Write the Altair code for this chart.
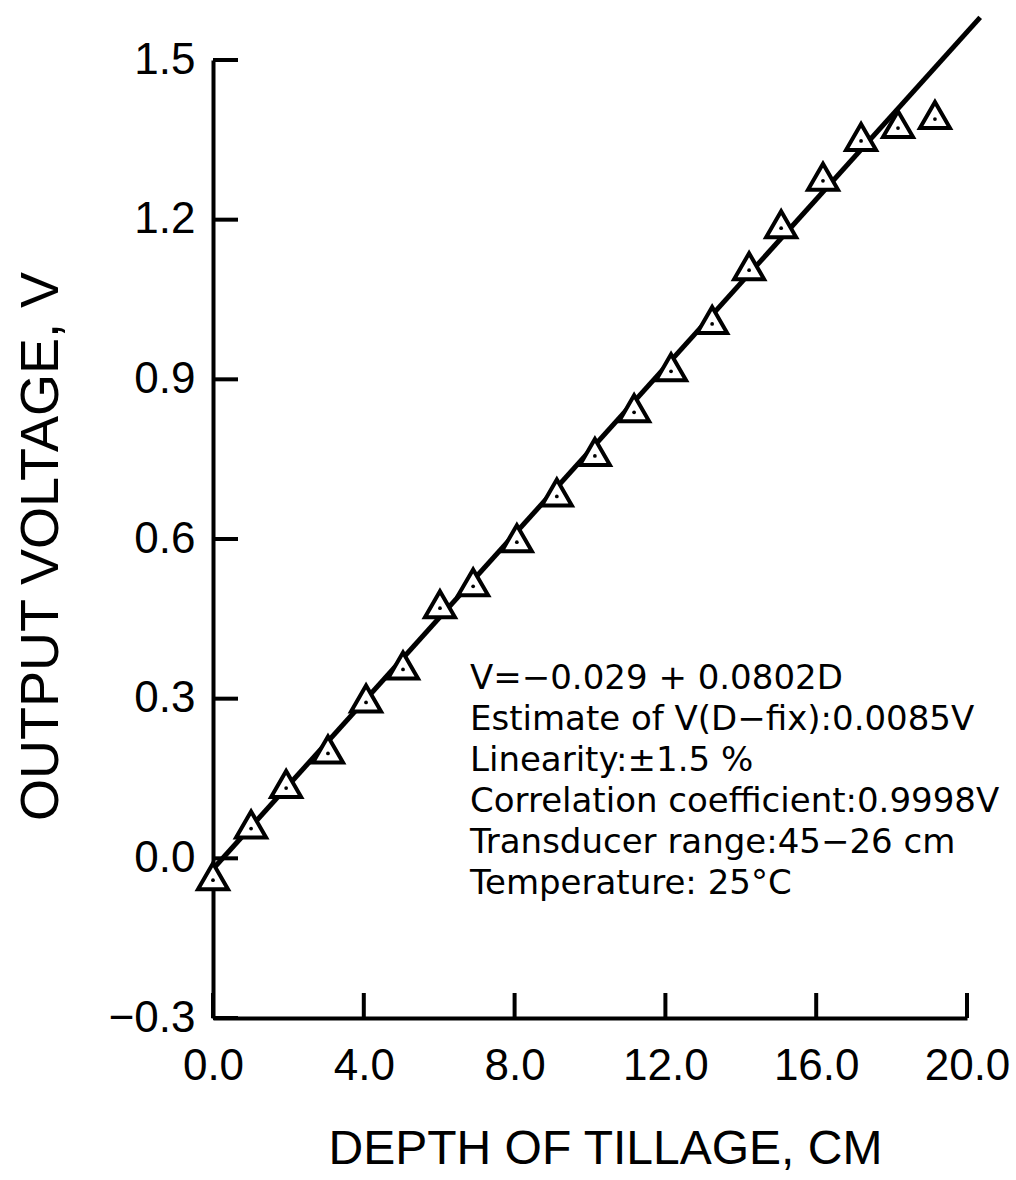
import altair as alt
import pandas as pd

# measured points (depth of tillage, cm / output voltage, V)
depth = [0.0, 1.01, 1.94, 3.05, 4.06, 5.04, 6.02, 6.90, 8.06, 9.12,
         10.13, 11.17, 12.15, 13.24, 14.22, 15.07, 16.18, 17.19, 18.17, 19.15]
voltage = [-0.041, 0.056, 0.132, 0.197, 0.293, 0.355, 0.470, 0.511, 0.594, 0.680,
           0.756, 0.838, 0.915, 1.004, 1.105, 1.184, 1.273, 1.348, 1.372, 1.389]

# fitted line end points
fit_depth = [0.0, 20.35]
fit_voltage = [-0.02, 1.58]

x_ticks = [0.0, 4.0, 8.0, 12.0, 16.0, 20.0]
y_ticks = [-0.3, 0.0, 0.3, 0.6, 0.9, 1.2, 1.5]

note_lines = [
    "V=\u22120.029 + 0.0802D",
    "Estimate of V(D\u2212fix):0.0085V",
    "Linearity:\u00b11.5 %",
    "Correlation coefficient:0.9998V",
    "Transducer range:45\u221226 cm",
    "Temperature: 25\u00b0C",
]

W, H = 754, 958
AXIS_FONT = "Liberation Sans"

pts = pd.DataFrame({"depth": depth, "voltage": voltage})
fit = pd.DataFrame({"depth": fit_depth, "voltage": fit_voltage})
xt = pd.DataFrame({"t": x_ticks})
yt = pd.DataFrame({"t": y_ticks})

xscale = alt.Scale(domain=[0, 20], nice=False, zero=False)
yscale = alt.Scale(domain=[-0.3, 1.5], nice=False, zero=False)

xaxis = alt.Axis(
    values=x_ticks, format=".1f", ticks=False, grid=False,
    domainColor="black", domainWidth=4,
    labelFont=AXIS_FONT, labelFontSize=44, labelColor="black", labelPadding=26,
    title="DEPTH OF TILLAGE, CM", titleFont=AXIS_FONT, titleFontSize=48,
    titleFontWeight="normal", titleColor="black",
    titleX=392, titleY=145, titleAlign="center", titleBaseline="alphabetic",
    labelFlush=False, labelOverlap=False,
)
yaxis = alt.Axis(
    values=y_ticks, format=".1f", ticks=False, grid=False,
    domainColor="black", domainWidth=4,
    labelFont=AXIS_FONT, labelFontSize=44, labelColor="black", labelPadding=18,
    title="OUTPUT VOLTAGE, V", titleFont=AXIS_FONT, titleFontSize=54,
    titleFontWeight="normal", titleColor="black",
    titleX=-156, titleY=486, titleAngle=-90, titleAlign="center",
    titleBaseline="alphabetic",
    labelFlush=False, labelOverlap=False,
)

base_axes = alt.Chart(pts).mark_point(opacity=0).encode(
    x=alt.X("depth:Q", scale=xscale, axis=xaxis),
    y=alt.Y("voltage:Q", scale=yscale, axis=yaxis),
)

xtick_marks = alt.Chart(xt).mark_rule(color="black", strokeWidth=4).encode(
    x=alt.X("t:Q", scale=xscale),
    y=alt.value(H),
    y2=alt.value(H - 25),
)
ytick_marks = alt.Chart(yt).mark_rule(color="black", strokeWidth=4).encode(
    y=alt.Y("t:Q", scale=yscale),
    x=alt.value(0),
    x2=alt.value(25),
)

fit_line = alt.Chart(fit).mark_line(color="black", strokeWidth=5, clip=False).encode(
    x=alt.X("depth:Q", scale=xscale),
    y=alt.Y("voltage:Q", scale=yscale),
)

triangles = alt.Chart(pts).mark_point(
    shape="triangle-up", size=900, filled=True, fill="white",
    stroke="black", strokeWidth=4, opacity=1, yOffset=-4,
).encode(
    x=alt.X("depth:Q", scale=xscale),
    y=alt.Y("voltage:Q", scale=yscale),
)
dots = alt.Chart(pts).mark_point(
    shape="circle", size=14, filled=True, color="black", opacity=1,
).encode(
    x=alt.X("depth:Q", scale=xscale),
    y=alt.Y("voltage:Q", scale=yscale),
)

notes = alt.Chart(pd.DataFrame({"k": [0]})).mark_text(
    text=note_lines, align="left", baseline="top", font="DejaVu Sans",
    fontSize=34, lineHeight=41, color="black",
).encode(
    x=alt.value(470 - 213),
    y=alt.value(662 - 60),
)

chart = alt.layer(
    base_axes, xtick_marks, ytick_marks, fit_line, triangles, dots, notes
).properties(
    width=W, height=H,
    autosize=alt.AutoSizeParams(type="none"),
    padding={"left": 213, "top": 60, "right": 1016 - 213 - W, "bottom": 1180 - 60 - H},
    background="white",
).configure_view(stroke=None)

chart.save("out.html", embed_options={"renderer": "svg", "actions": False})
